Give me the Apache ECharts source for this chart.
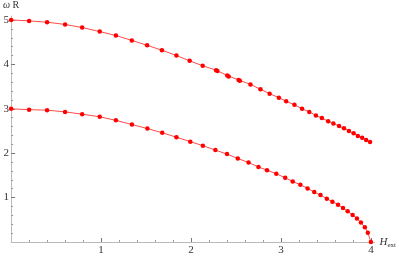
<!DOCTYPE html>
<html>
<head>
<meta charset="utf-8">
<script src="https://cdn.jsdelivr.net/npm/echarts@6/dist/echarts.min.js"></script>
<style>
  html, body { margin: 0; padding: 0; background: #fff; }
  #chart { width: 399px; height: 256px; }
</style>
</head>
<body>
<div id="chart"></div>
<script>
// upper branch
var upperX = [0, 0.2, 0.4, 0.6, 0.79, 0.985, 1.165, 1.342, 1.512, 1.677,
  1.838, 1.985, 2.13, 2.279, 2.293, 2.403, 2.419, 2.529, 2.543, 2.661,
  2.772, 2.874, 2.977, 3.058, 3.15, 3.235, 3.315, 3.389, 3.455, 3.525,
  3.583, 3.646, 3.701, 3.756, 3.808, 3.855, 3.903, 3.947, 3.991];
var upperY = [5.0, 4.98, 4.95, 4.90, 4.83, 4.74, 4.65, 4.54, 4.43, 4.32,
  4.20, 4.08, 3.97, 3.87, 3.85, 3.75, 3.73, 3.65, 3.63, 3.55,
  3.44, 3.34, 3.25, 3.17, 3.09, 3.0, 2.93, 2.85, 2.79, 2.72,
  2.67, 2.61, 2.56, 2.50, 2.45, 2.39, 2.35, 2.30, 2.25];

// lower branch
var lowerX = [0, 0.2, 0.4, 0.6, 0.79, 0.985, 1.165, 1.343, 1.515, 1.68,
  1.838, 1.992, 2.132, 2.271, 2.40, 2.52, 2.64, 2.75, 2.845, 2.948,
  3.047, 3.131, 3.216, 3.296, 3.37, 3.44, 3.51, 3.572, 3.635, 3.69,
  3.742, 3.797, 3.845, 3.889, 3.933, 3.966, 4.0];
var lowerY = [3.0, 2.98, 2.97, 2.93, 2.88, 2.82, 2.74, 2.645, 2.555, 2.46,
  2.36, 2.26, 2.17, 2.07, 1.98, 1.88, 1.79, 1.69, 1.618, 1.537,
  1.447, 1.364, 1.29, 1.207, 1.124, 1.056, 0.975, 0.908, 0.841, 0.765,
  0.691, 0.609, 0.528, 0.438, 0.333, 0.211, 0];

var xTicks = [1, 2, 3, 4];
var yTicks = [1, 2, 3, 4, 5];

function pairs(xs, ys) {
  var out = [];
  for (var i = 0; i < xs.length; i++) out.push([xs[i], ys[i]]);
  return out;
}

var serif = '"Liberation Serif", "DejaVu Serif", serif';
var axisGray = '#bbbbbb';
var tickGray = '#777777';

function branch(xs, ys) {
  return {
    type: 'line',
    data: pairs(xs, ys),
    clip: false,
    symbol: 'circle',
    symbolSize: 4.5,
    itemStyle: { color: '#ff0000' },
    lineStyle: { color: '#ff4a4a', width: 1 },
    emphasis: { disabled: true },
    z: 3
  };
}

var myChart = echarts.init(document.getElementById('chart'), null, { renderer: 'canvas' });

var option = {
  animation: false,
  grid: { left: 9.3, right: 23, top: 16, bottom: 13.3, containLabel: false },
  xAxis: {
    type: 'value',
    min: 0,
    max: 4.04,
    interval: 1,
    name: '{i|H}{s|ext}',
    nameLocation: 'end',
    nameGap: 5,
    nameTextStyle: {
      rich: {
        i: { fontFamily: serif, fontStyle: 'italic', fontSize: 11, color: '#333' },
        s: { fontFamily: serif, fontSize: 7, color: '#333', padding: [6, 0, 0, 0] }
      }
    },
    axisLine: { show: true, lineStyle: { color: axisGray, width: 1 } },
    axisTick: { show: true, inside: true, length: 4, customValues: xTicks, lineStyle: { color: tickGray } },
    minorTick: { show: true, splitNumber: 5, length: 2, lineStyle: { color: '#999' } },
    axisLabel: {
      customValues: xTicks,
      fontFamily: serif, fontSize: 11, color: '#333', margin: 3
    },
    splitLine: { show: false }
  },
  yAxis: {
    type: 'value',
    min: 0,
    max: 5.09,
    interval: 1,
    name: '{i|ω} R',
    nameLocation: 'end',
    nameGap: 6,
    nameTextStyle: {
      fontFamily: serif, fontSize: 10, color: '#333', align: 'center',
      rich: {
        i: { fontFamily: serif, fontStyle: 'italic', fontSize: 10, color: '#333' }
      }
    },
    axisLine: { show: true, lineStyle: { color: axisGray, width: 1 } },
    axisTick: { show: true, inside: true, length: 4, customValues: yTicks, lineStyle: { color: tickGray } },
    minorTick: { show: true, splitNumber: 5, length: 2, lineStyle: { color: '#999' } },
    axisLabel: {
      customValues: yTicks,
      fontFamily: serif, fontSize: 11, color: '#333', margin: 2
    },
    splitLine: { show: false }
  },
  series: [branch(upperX, upperY), branch(lowerX, lowerY)]
};

myChart.setOption(option);
</script>
</body>
</html>
